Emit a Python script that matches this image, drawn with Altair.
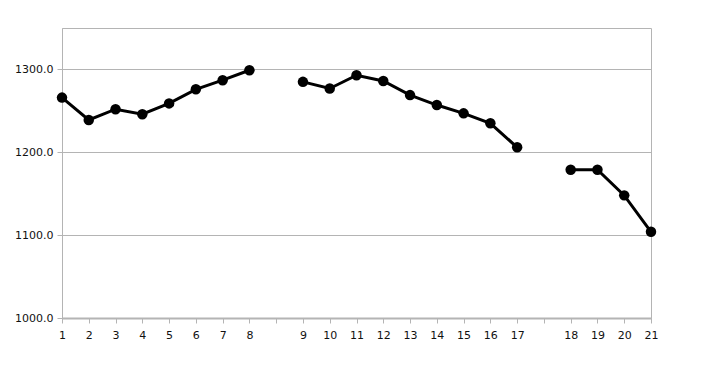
import altair as alt
import pandas as pd

# category slots along the x axis (blank slots are gaps between series segments)
categories = ["1", "2", "3", "4", "5", "6", "7", "8", " ",
              "9", "10", "11", "12", "13", "14", "15", "16", "17", "  ",
              "18", "19", "20", "21"]
segments = [1, 1, 1, 1, 1, 1, 1, 1, None,
            2, 2, 2, 2, 2, 2, 2, 2, 2, None,
            3, 3, 3, 3]
values = [1266, 1239, 1252, 1246, 1259, 1276, 1287, 1299, None,
          1285, 1277, 1293, 1286, 1269, 1257, 1247, 1235, 1206, None,
          1179, 1179, 1148, 1104]

df = pd.DataFrame({"cat": categories, "seg": segments, "val": values})
df_pts = df.dropna()

grey = "#b4b4b4"

x_enc = alt.X(
    "cat:O",
    sort=categories,
    scale=alt.Scale(type="point", domain=categories, padding=0),
    axis=alt.Axis(title=None, labelAngle=0, domainColor=grey, domainWidth=2,
                  tickColor=grey, tickSize=5, labelPadding=6, grid=False,
                  labelFont="DejaVu Sans", labelFontSize=11, labelColor="#111111"),
)
y_enc = alt.Y(
    "val:Q",
    scale=alt.Scale(domain=[1000, 1350], nice=False, zero=False),
    axis=alt.Axis(title=None, values=[1000, 1100, 1200, 1300], format=".1f",
                  domainColor=grey, domainWidth=1, tickColor=grey, tickSize=5,
                  labelPadding=4, gridColor=grey, gridWidth=1,
                  labelFont="DejaVu Sans", labelFontSize=11, labelColor="#111111"),
)

line = alt.Chart(df_pts).mark_line(color="black", strokeWidth=3).encode(
    x=x_enc, y=y_enc, detail="seg:N"
)
points = alt.Chart(df_pts).mark_point(filled=True, color="black", size=110, opacity=1).encode(
    x=x_enc, y=y_enc
)

chart = (line + points).properties(
    width=589, height=290,
    autosize="none",
    padding={"left": 62, "top": 28, "right": 51, "bottom": 54},
    background="white",
).configure_view(stroke=grey, strokeWidth=1)

chart.save("out.html", embed_options={"renderer": "svg", "actions": False})
